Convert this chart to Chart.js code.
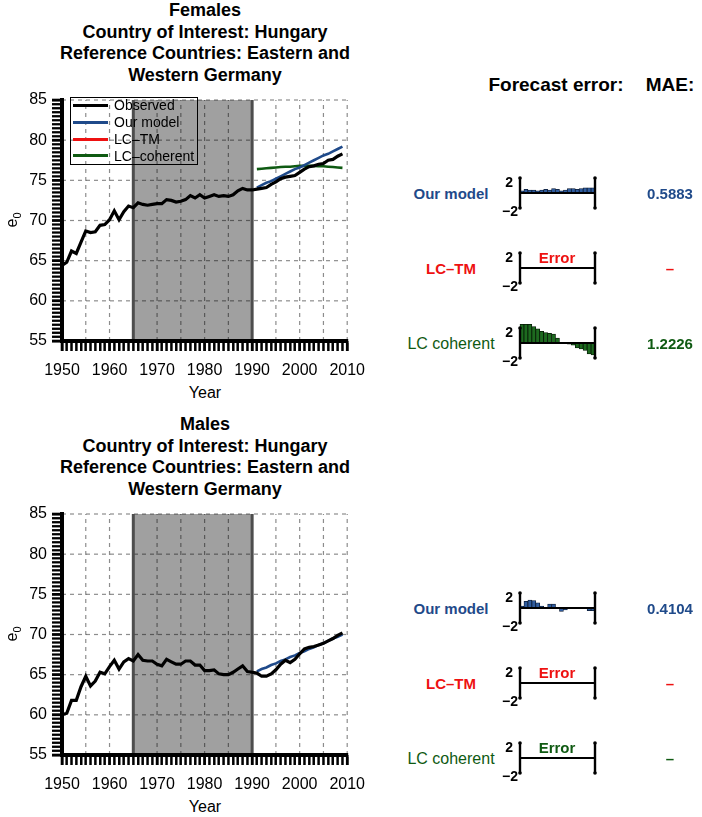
<!DOCTYPE html>
<html><head><meta charset="utf-8">
<script src="https://cdn.jsdelivr.net/npm/chart.js@4.4.1/dist/chart.umd.min.js"></script>
<style>
body{margin:0;background:#fff;width:702px;height:817px;position:relative;overflow:hidden;font-family:"Liberation Sans",Arial,Helvetica,sans-serif;color:#000;}
.t{position:absolute;white-space:nowrap;}
canvas{position:absolute;}
</style></head><body>
<script>
// ---------------- DATA ----------------
const years = [1950,1951,1952,1953,1954,1955,1956,1957,1958,1959,1960,1961,1962,1963,1964,1965,1966,1967,1968,1969,1970,1971,1972,1973,1974,1975,1976,1977,1978,1979,1980,1981,1982,1983,1984,1985,1986,1987,1988,1989,1990,1991,1992,1993,1994,1995,1996,1997,1998,1999,2000,2001,2002,2003,2004,2005,2006,2007,2008,2009];
const forecastYears = [1991,1992,1993,1994,1995,1996,1997,1998,1999,2000,2001,2002,2003,2004,2005,2006,2007,2008,2009];

const femaleObserved = [64.4,64.8,66.2,65.9,67.3,68.7,68.5,68.6,69.4,69.5,
  70.1,71.2,70.1,71.1,71.8,71.6,72.2,72.0,71.9,72.0,
  72.1,72.1,72.6,72.5,72.3,72.4,72.6,73.1,72.8,73.2,
  72.8,73.0,73.2,73.0,73.1,73.0,73.2,73.7,74.0,73.8,
  73.8,73.9,74.0,74.1,74.5,74.8,75.2,75.4,75.5,75.6,
  76.0,76.4,76.7,76.8,77.0,77.1,77.5,77.6,78.0,78.3];
const femaleOurModel = [74.1,74.4,74.7,74.9,75.2,75.5,75.8,76.1,76.4,76.6,76.9,77.2,77.5,77.8,78.1,78.3,78.6,78.9,79.2];
const femaleLCTM = [];
const femaleLCcoherent = [76.4,76.45,76.5,76.55,76.6,76.65,76.7,76.7,76.75,76.8,76.8,76.8,76.8,76.75,76.75,76.7,76.65,76.6,76.55];

const maleObserved = [60.0,60.2,61.8,61.8,63.5,64.8,63.6,64.2,65.3,65.1,
  66.0,66.8,65.7,66.6,67.0,66.7,67.5,66.8,66.7,66.7,
  66.3,66.1,66.9,66.6,66.3,66.3,66.7,66.7,66.2,66.2,
  65.5,65.5,65.6,65.1,65.0,65.0,65.3,65.7,66.1,65.4,
  65.3,65.2,64.8,64.8,65.1,65.6,66.3,66.8,66.5,66.9,
  67.6,68.2,68.4,68.5,68.7,68.9,69.2,69.5,69.9,70.2];
const maleOurModel = [65.4,65.7,65.9,66.2,66.4,66.7,66.9,67.2,67.4,67.7,67.9,68.2,68.4,68.7,68.9,69.2,69.5,69.7,70.0];

// forecast errors (forecast - observed), 1991-2009
const femaleErrOurModel = [0.3,0.5,0.4,0.4,0.3,0.4,0.5,0.4,0.6,0.5,0.3,0.4,0.6,0.6,0.5,0.6,0.7,0.7,0.7];
const femaleErrLCcoherent = [2.5,2.5,2.5,2.2,1.9,1.55,1.4,1.3,1.2,0.67,0.1,-0.05,-0.15,-0.3,-0.67,-0.8,-1.0,-1.45,-1.6];
const maleErrOurModel = [0.27,0.9,1.07,1.0,0.7,0.27,0.1,0.53,0.53,0.1,-0.45,-0.25,-0.1,-0.05,0.1,-0.05,-0.1,-0.35,-0.35];

const maeFemale = ['0.5883','\u2013','1.2226'];
const maeMale = ['0.4104','\u2013','\u2013'];

const shadeRange = [1965,1990];
const xTickValues = years.concat([2010]);
const yTickValues = [55,55.5,56,56.5,57,57.5,58,58.5,59,59.5,60,60.5,61,61.5,62,62.5,63,63.5,64,64.5,65,65.5,66,66.5,67,67.5,68,68.5,69,69.5,70,70.5,71,71.5,72,72.5,73,73.5,74,74.5,75,75.5,76,76.5,77,77.5,78,78.5,79,79.5,80,80.5,81,81.5,82,82.5,83,83.5,84,84.5,85];
const gridYears = [1955,1960,1965,1970,1975,1980,1985,1990,1995,2000,2005,2010];
const gridValues = [60,65,70,75,80,85];

const seriesNames = ['Observed','Our model','LC\u2013TM','LC\u2013coherent'];
const C_BLACK='#000000', C_BLUE='#1f4a8a', C_RED='#ee1111', C_GREEN='#0f5a12';
const FONT = '"Liberation Sans", Arial, Helvetica, sans-serif';

// ---------------- helpers ----------------
function txt(str, x, y, o){
  o = o||{};
  const d=document.createElement('div');
  d.className='t';
  d.innerHTML=str;
  d.style.fontSize=(o.size||16)+'px';
  d.style.fontWeight=o.bold?'bold':'normal';
  d.style.color=o.color||'#000';
  d.style.left=x+'px'; d.style.top=y+'px';
  d.style.lineHeight=(o.lh||1.15);
  d.style.textAlign=o.align||'center';
  let tx = o.anchor==='right' ? '-100%' : (o.anchor==='left' ? '0' : '-50%');
  d.style.transform='translate('+tx+',-50%)'+(o.rot?' rotate('+o.rot+'deg)':'');
  document.body.appendChild(d);
  return d;
}
function mkCanvas(left,top,w,h){
  const c=document.createElement('canvas');
  c.width=w;c.height=h;c.style.left=left+'px';c.style.top=top+'px';c.style.width=w+'px';c.style.height=h+'px';
  document.body.appendChild(c);
  return c;
}
function pts(xs, ys){ return ys.map((v,i)=>({x:xs[i], y:v})); }

const bgPlugin = {
  id:'bgShade',
  beforeDatasetsDraw(chart){
    const {ctx, chartArea:a, scales:{x,y}} = chart;
    ctx.save();
    const x1=x.getPixelForValue(shadeRange[0]), x2=x.getPixelForValue(shadeRange[1]);
    ctx.fillStyle='#a0a0a0';
    ctx.fillRect(x1,a.top,x2-x1,a.bottom-a.top);
    ctx.strokeStyle='rgba(0,0,0,0.45)'; ctx.lineWidth=1.2; ctx.setLineDash([4,4]);
    gridYears.forEach(v=>{ const p=x.getPixelForValue(v); ctx.beginPath(); ctx.moveTo(p,a.bottom); ctx.lineTo(p,a.top); ctx.stroke(); });
    gridValues.forEach(v=>{ const p=y.getPixelForValue(v); ctx.beginPath(); ctx.moveTo(a.left,p); ctx.lineTo(a.right,p); ctx.stroke(); });
    ctx.setLineDash([]);
    ctx.strokeStyle='#4d4d4d'; ctx.lineWidth=3;
    [x1,x2].forEach(p=>{ ctx.beginPath(); ctx.moveTo(p,a.top); ctx.lineTo(p,a.bottom); ctx.stroke(); });
    ctx.restore();
  }
};

// axis ticks & lines drawn on an overlay canvas from the chart's own scales
function drawAxesOverlay(chart, left, top, w, h){
  const ov = mkCanvas(left, top, w, h);
  ov.style.zIndex='20';
  ov.style.pointerEvents='none';
  const ctx = ov.getContext('2d');
  const a = chart.chartArea, x = chart.scales.x, y = chart.scales.y;
  ctx.fillStyle='#000';
  xTickValues.forEach(v=>{
    const p=x.getPixelForValue(v); const major=(v%10===0);
    const wd = major?2.6:2;
    ctx.fillRect(p-wd/2, a.bottom, wd, 10);
  });
  yTickValues.forEach(v=>{
    const p=y.getPixelForValue(v); const major=(v%5===0);
    const hh = major?2.6:1.8;
    ctx.fillRect(a.left-10, p-hh/2, 10, hh);
  });
  ctx.fillRect(a.left-2, a.bottom-2, a.right-a.left+3, 4);
  ctx.fillRect(a.left-2, a.top-1, 4, a.bottom-a.top+3);
}

function mainChart(top, obs, model, lctm, coh){
  const W=375, H=301;
  const cv = mkCanvas(0, top, W, H);
  const chart = new Chart(cv, {
    type:'line',
    data:{datasets:[
      {label:seriesNames[0], data:pts(years,obs), borderColor:C_BLACK, borderWidth:3.2, pointRadius:0, tension:0},
      {label:seriesNames[1], data:pts(forecastYears,model), borderColor:C_BLUE, borderWidth:2.6, pointRadius:0, tension:0},
      {label:seriesNames[2], data:pts(forecastYears,lctm), borderColor:C_RED, borderWidth:2.6, pointRadius:0, tension:0},
      {label:seriesNames[3], data:pts(forecastYears,coh), borderColor:C_GREEN, borderWidth:2.6, pointRadius:0, tension:0}
    ]},
    options:{
      responsive:false, animation:false, events:[],
      layout:{padding:{top:20,right:26,left:0,bottom:0}},
      plugins:{legend:{display:false}, tooltip:{enabled:false}},
      scales:{
        x:{type:'linear', min:1950, max:2010,
          afterBuildTicks:s=>{ s.ticks = xTickValues.map(v=>({value:v})); },
          afterFit:s=>{ s.height=40; },
          ticks:{autoSkip:false, maxRotation:0, padding:10, color:'#000', font:{family:FONT,size:16},
            callback:v=> (v%10===0 ? String(v) : '')},
          grid:{drawOnChartArea:false, drawTicks:true, tickLength:10, tickColor:'#000', tickWidth:2},
          border:{display:true, color:'#000', width:4}
        },
        y:{type:'linear', min:55, max:85,
          afterBuildTicks:s=>{ s.ticks = yTickValues.map(v=>({value:v})); },
          afterFit:s=>{ s.width=62; },
          ticks:{autoSkip:false, padding:5, color:'#000', font:{family:FONT,size:16},
            callback:v=> (v%5===0 ? String(v) : '')},
          grid:{drawOnChartArea:false, drawTicks:true, tickLength:10, tickColor:'#000', tickWidth:1.8},
          border:{display:true, color:'#000', width:4}
        }
      }
    },
    plugins:[bgPlugin]
  });
  return {chart, top, W, H};
}

const miniPlugin = {
  id:'miniAxes',
  afterDatasetsDraw(chart){
    const {ctx, chartArea:a, scales:{y}} = chart;
    ctx.save();
    ctx.strokeStyle='#000'; ctx.fillStyle='#000';
    ctx.lineWidth=2.2;
    const z=y.getPixelForValue(0);
    ctx.beginPath(); ctx.moveTo(a.left,z); ctx.lineTo(a.right,z); ctx.stroke();
    ctx.lineWidth=2.4;
    [a.left,a.right].forEach(p=>{
      ctx.beginPath(); ctx.moveTo(p,a.top); ctx.lineTo(p,a.bottom); ctx.stroke();
      ctx.beginPath(); ctx.arc(p,a.top,1.8,0,Math.PI*2); ctx.fill();
      ctx.beginPath(); ctx.arc(p,a.bottom,1.8,0,Math.PI*2); ctx.fill();
    });
    ctx.restore();
  }
};

function miniChart(zeroY, values, fill, edge){
  const cv = mkCanvas(512, zeroY-24, 91, 48);
  new Chart(cv, {
    type:'bar',
    data:{labels:forecastYears, datasets:[{data:values, backgroundColor:fill, borderColor:edge, borderWidth:0.8,
      categoryPercentage:1, barPercentage:1, clip:false}]},
    options:{
      responsive:false, animation:false, events:[],
      layout:{padding:{top:9,bottom:9,left:8,right:8}},
      plugins:{legend:{display:false}, tooltip:{enabled:false}},
      scales:{x:{display:false}, y:{display:false, min:-2, max:2}}
    },
    plugins:[miniPlugin]
  });
  txt('2', 513, zeroY-11, {size:14, bold:true, anchor:'right'});
  txt('\u22122', 518, zeroY+18, {size:14, bold:true, anchor:'right'});
}

// ---------------- titles ----------------
function title(top, first){
  const d=document.createElement('div');
  d.className='t';
  d.style.left='205px'; d.style.top=top+'px'; d.style.transform='translateX(-50%)';
  d.style.fontSize='18px'; d.style.fontWeight='bold'; d.style.lineHeight='21.5px'; d.style.textAlign='center';
  d.innerHTML=first+'<br>Country of Interest: Hungary<br>Reference Countries: Eastern and<br>Western Germany';
  document.body.appendChild(d);
}
title(0,'Females');
title(414,'Males');

// ---------------- main charts ----------------
const mTop = mainChart(80, femaleObserved, femaleOurModel, femaleLCTM, femaleLCcoherent);
const mBot = mainChart(494, maleObserved, maleOurModel, [], []);

[0,414].forEach(off=>{
  txt('Year', 205, 393+off, {size:16});
  txt('e<sub style="font-size:11px">0</sub>', 13, 220+off, {size:16, rot:-90});
});

// legend (top chart)
(function(){
  const box=document.createElement('div');
  box.style.cssText='position:absolute;left:70px;top:97px;width:126px;height:66px;border:1px solid #000;';
  document.body.appendChild(box);
  const cols=[C_BLACK,C_BLUE,C_RED,C_GREEN];
  const ys=[105,122,139,155.5];
  seriesNames.forEach((n,i)=>{
    const l=document.createElement('div');
    l.style.cssText='position:absolute;left:73px;width:35px;height:3px;background:'+cols[i]+';top:'+(ys[i]-1.5)+'px;';
    document.body.appendChild(l);
    txt(n, 114, ys[i], {size:14, anchor:'left'});
  });
})();

// ---------------- right panel ----------------
txt('Forecast error:', 556, 85, {size:19, bold:true});
txt('MAE:', 670, 85, {size:19, bold:true});

function panel(off, errModel, errCoh, mae){
  const rows=[193+off, 268+off, 343+off];
  txt('Our model', 451, rows[0]+1, {size:15, bold:true, color:C_BLUE});
  txt('LC\u2013TM', 451, rows[1]+1, {size:15, bold:true, color:C_RED});
  txt('LC coherent', 451, rows[2]+1, {size:16, color:C_GREEN});
  miniChart(rows[0], errModel, '#2f5c9e', '#0b1a33');
  miniChart(rows[1], [], C_RED, C_RED);
  txt('Error', 557, rows[1]-10, {size:15, bold:true, color:C_RED});
  miniChart(rows[2], errCoh, '#1d6a1f', '#061806');
  if(!errCoh.length) txt('Error', 557, rows[2]-10, {size:15, bold:true, color:C_GREEN});
  txt(mae[0], 670, rows[0]+1, {size:15, bold:true, color:C_BLUE});
  txt(mae[1], 670, rows[1]+1, {size:15, bold:true, color:C_RED});
  txt(mae[2], 670, rows[2]+1, {size:15, bold:true, color:C_GREEN});
}
panel(0, femaleErrOurModel, femaleErrLCcoherent, maeFemale);
panel(415, maleErrOurModel, [], maeMale);

// overlays last, on top of everything
[mTop, mBot].forEach(m=> drawAxesOverlay(m.chart, 0, m.top, m.W, m.H));
</script>
</body></html>
